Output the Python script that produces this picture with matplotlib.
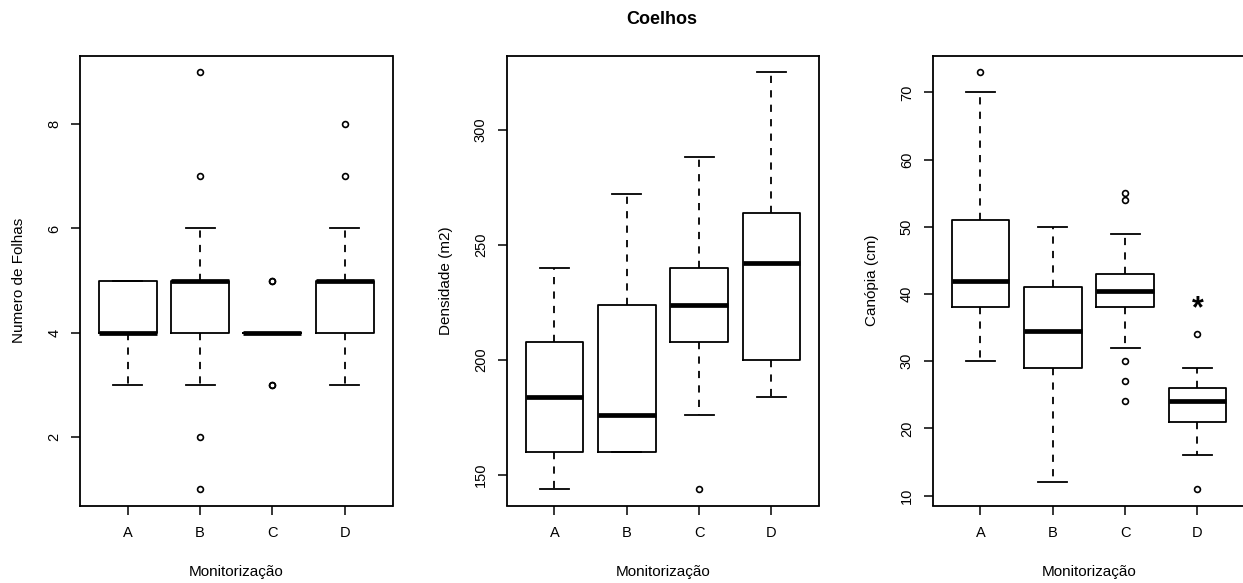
import numpy as np
import matplotlib
matplotlib.use("Agg")
import matplotlib.pyplot as plt

plt.rcParams['font.family'] = ['Liberation Sans', 'DejaVu Sans']

grupos = ['A', 'B', 'C', 'D']

# numero de folhas: (whislo, q1, med, q3, whishi), outliers
folhas_stats = [(3, 4, 4, 5, 5), (3, 4, 5, 5, 6), (4, 4, 4, 4, 4), (3, 4, 5, 5, 6)]
folhas_out = [[], [1, 2, 7, 9], [3, 3, 5, 5], [7, 8]]
folhas_ticks = [2, 4, 6, 8]

# densidade (m2)
dens_stats = [(144, 160, 184, 208, 240), (160, 160, 176, 224, 272),
              (176, 208, 224, 240, 288), (184, 200, 242, 264, 325)]
dens_out = [[], [], [144], []]
dens_ticks = [150, 200, 250, 300]

# canopia (cm)
canop_stats = [(30, 38, 42, 51, 70), (12, 29, 34.5, 41, 50),
               (32, 38, 40.5, 43, 49), (16, 21, 24, 26, 29)]
canop_out = [[73], [], [24, 27, 30, 54, 55], [11, 34]]
canop_ticks = [10, 20, 30, 40, 50, 60, 70]

painel = [
    (folhas_stats, folhas_out, folhas_ticks, 'Numero de Folhas'),
    (dens_stats, dens_out, dens_ticks, 'Densidade (m2)'),
    (canop_stats, canop_out, canop_ticks, 'Canópia (cm)'),
]

W, H = 1243, 583
fig = plt.figure(figsize=(W / 100, H / 100), dpi=100)

lefts = [80, 506.7, 932.7]
pw = 312.5
bottom = (H - 505.5) / H
height = (505.5 - 55.6) / H

axes = []
for left, (stats, outs, ticks, ylab) in zip(lefts, painel):
    ax = fig.add_axes([left / W, bottom, pw / W, height])
    bstats = []
    for g, s, o in zip(grupos, stats, outs):
        bstats.append(dict(label=g, whislo=s[0], q1=s[1], med=s[2], q3=s[3],
                           whishi=s[4], fliers=o))
    ax.bxp(bstats, positions=range(1, 5), widths=0.8, capwidths=0.4,
           boxprops=dict(color='black', lw=1.3),
           medianprops=dict(color='black', lw=3.4, solid_capstyle='butt'),
           whiskerprops=dict(color='black', lw=1.3, linestyle=(0, (4, 4))),
           capprops=dict(color='black', lw=1.3),
           flierprops=dict(marker='o', markersize=4.2, markerfacecolor='none',
                           markeredgecolor='black', markeredgewidth=1.2))

    # limites como no R: 4% alem dos extremos
    vals = [v for s in stats for v in s] + [v for o in outs for v in o]
    lo, hi = min(vals), max(vals)
    pad = 0.04 * (hi - lo)
    ax.set_ylim(lo - pad, hi + pad)
    ax.set_xlim(0.34, 4.66)

    ax.set_yticks(ticks)
    ax.set_yticklabels([str(t) for t in ticks], rotation=90, va='center')
    ax.set_xticks(range(1, 5))
    ax.set_xticklabels(grupos)
    ax.tick_params(axis='both', direction='out', length=6.5, width=1.1,
                   labelsize=10.5, color='black')
    ax.tick_params(axis='y', pad=7)
    ax.tick_params(axis='x', pad=8.5)
    for sp in ax.spines.values():
        sp.set_linewidth(1.3)
    ax.set_xlabel('Monitorização', fontsize=11, labelpad=18)
    ax.set_ylabel(ylab, fontsize=11, labelpad=15)
    axes.append(ax)

axes[2].text(4, 37.8, '*', fontsize=22, fontweight='bold', ha='center', va='center')

fig.text(662 / W, 1 - 19.5 / H, 'Coelhos', fontsize=13, fontweight='bold',
         ha='center', va='center')

fig.savefig('out.png', dpi=100)
